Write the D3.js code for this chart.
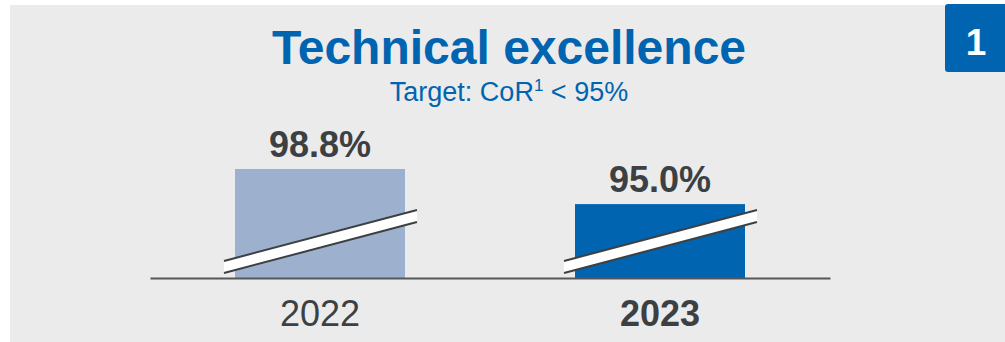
<!DOCTYPE html>
<html>
<head>
<meta charset="utf-8">
<script src="https://cdn.jsdelivr.net/npm/d3@7"></script>
<style>
  html, body { margin: 0; padding: 0; background: #ffffff; }
  svg { display: block; font-family: "Liberation Sans", Arial, sans-serif; }
</style>
</head>
<body>
<svg id="chart" width="1005" height="342"></svg>
<script>
// Combined ratio by year
const years = ["2022", "2023"];
const corValues = [98.8, 95.0];
const valueLabels = ["98.8%", "95.0%"];
const barColors = ["#9db1cf", "#0064b0"];
const yearWeights = ["normal", "bold"];

const title = "Technical excellence";
const badgeText = "1";

const W = 1005, H = 342;
const svg = d3.select("#chart");

const blue = "#0064b0";
const dark = "#3d4043";

// panel background
svg.append("rect")
  .attr("x", 10).attr("y", 5)
  .attr("width", W - 10).attr("height", H - 5)
  .attr("fill", "#ebebeb");

// section badge
svg.append("rect")
  .attr("x", 945).attr("y", 4)
  .attr("width", 75).attr("height", 68)
  .attr("rx", 3)
  .attr("fill", blue);
svg.append("text")
  .attr("x", 976).attr("y", 55)
  .attr("text-anchor", "middle")
  .attr("font-size", 37).attr("font-weight", "bold")
  .attr("fill", "#ffffff")
  .text(badgeText);

// title and subtitle
svg.append("text")
  .attr("x", 509).attr("y", 64)
  .attr("text-anchor", "middle")
  .attr("font-size", 48).attr("font-weight", "bold")
  .attr("fill", blue)
  .text(title);

const sub = svg.append("text")
  .attr("x", 509).attr("y", 101)
  .attr("text-anchor", "middle")
  .attr("font-size", 27)
  .attr("fill", blue);
sub.append("tspan").text("Target: CoR");
sub.append("tspan").attr("font-size", 17).attr("dy", -10).text("1");
sub.append("tspan").attr("dy", 10).text(" < 95%");

// scales (value axis is broken, so it starts above zero)
const x = d3.scaleBand()
  .domain(years)
  .range([150, 830])
  .paddingInner(0.5)
  .paddingOuter(0.25);

const y = d3.scaleLinear()
  .domain([87, 98.8])
  .range([278, 169]);

const data = years.map((yr, i) => ({
  year: yr, value: corValues[i], label: valueLabels[i],
  color: barColors[i], weight: yearWeights[i]
}));

// bars
svg.selectAll("rect.bar")
  .data(data)
  .join("rect")
  .attr("class", "bar")
  .attr("x", d => x(d.year))
  .attr("y", d => y(d.value))
  .attr("width", x.bandwidth())
  .attr("height", d => y.range()[0] - y(d.value))
  .attr("fill", d => d.color);

// axis break marks across each bar
const base = y.range()[0];
const breakG = svg.selectAll("g.brk")
  .data(data)
  .join("g")
  .attr("class", "brk");

breakG.each(function(d) {
  const g = d3.select(this);
  const x0 = x(d.year) - 11;
  const x1 = x(d.year) + x.bandwidth() + 12;
  const yl = base - 5, yr = base - 56, t = 12;
  g.append("polygon")
    .attr("points", [[x0, yl], [x1, yr], [x1, yr - t], [x0, yl - t]].map(p => p.join(",")).join(" "))
    .attr("fill", "#ffffff");
  g.append("line")
    .attr("x1", x0).attr("y1", yl - t).attr("x2", x1).attr("y2", yr - t)
    .attr("stroke", dark).attr("stroke-width", 2);
  g.append("line")
    .attr("x1", x0).attr("y1", yl).attr("x2", x1).attr("y2", yr)
    .attr("stroke", dark).attr("stroke-width", 2);
});

// baseline
const axis = d3.axisBottom(x).tickSize(0).tickPadding(22);
const axisG = svg.append("g")
  .attr("transform", `translate(0,${base})`)
  .call(axis);
axisG.select(".domain")
  .attr("stroke", "#555759").attr("stroke-width", 2);
axisG.selectAll(".tick text")
  .attr("font-size", 36)
  .attr("font-family", "'Liberation Sans', Arial, sans-serif")
  .attr("fill", dark)
  .attr("dy", "0.71em")
  .attr("font-weight", (d, i) => yearWeights[i]);

// value labels
svg.selectAll("text.val")
  .data(data)
  .join("text")
  .attr("class", "val")
  .attr("x", d => x(d.year) + x.bandwidth() / 2)
  .attr("y", d => y(d.value) - 12)
  .attr("text-anchor", "middle")
  .attr("font-size", 36).attr("font-weight", "bold")
  .attr("fill", dark)
  .text(d => d.label);
</script>
</body>
</html>
